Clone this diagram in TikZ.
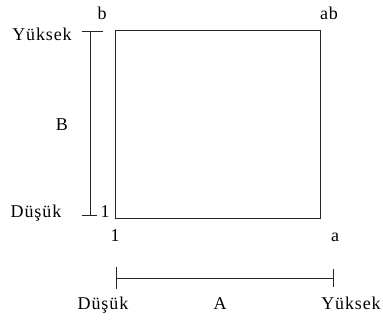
\documentclass[tikz,border=0pt]{standalone}
\usepackage{fontspec}
\setmainfont{Liberation Serif}[LetterSpace=5]
\begin{document}
\begin{tikzpicture}[x=1pt,y=-1pt,
  lbl/.style={inner sep=0pt, font=\fontsize{18}{20}\selectfont},
  ln/.style={draw=black!85, line width=1pt}]
\useasboundingbox (0,0) rectangle (383,320);
% box
\coordinate (bl) at (115,219);
\coordinate (tr) at (320,31);
\draw[ln] (bl) rectangle (tr);
% vertical axis B
\coordinate (vt) at (90,32);
\coordinate (vb) at (90,216);
\coordinate (vtl) at (82,32);
\coordinate (vtr) at (103,32);
\coordinate (vbl) at (82,216);
\coordinate (vbr) at (97,216);
\draw[ln] (vt) -- (vb);
\draw[ln] (vtl) -- (vtr);
\draw[ln] (vbl) -- (vbr);
% horizontal axis A
\coordinate (hl) at (116,279);
\coordinate (hr) at (333,279);
\coordinate (hlt) at (116,267);
\coordinate (hlb) at (116,289);
\coordinate (hrt) at (333,269);
\coordinate (hrb) at (333,287);
\draw[ln] (hl) -- (hr);
\draw[ln] (hlt) -- (hlb);
\draw[ln] (hrt) -- (hrb);
% labels
\node[lbl, anchor=base] (lb) at (102,20) {b};
\node[lbl, anchor=base] (lab) at (329,20) {ab};
\node[lbl, anchor=base] (yl) at (42,41) {Yüksek};
\node[lbl] (lB) at (62,124.5) {B};
\node[lbl, anchor=base] (dl) at (36,218) {Düşük};
\node[lbl, anchor=base] (one1) at (105,218) {1};
\node[lbl, anchor=base] (one2) at (115,242) {1};
\node[lbl, anchor=base] (la) at (335,242) {a};
\node[lbl, anchor=base] (db) at (103,310) {Düşük};
\node[lbl, anchor=base] (lA) at (220,310) {A};
\node[lbl, anchor=base] (yb) at (351,310) {Yüksek};
\end{tikzpicture}
\end{document}
